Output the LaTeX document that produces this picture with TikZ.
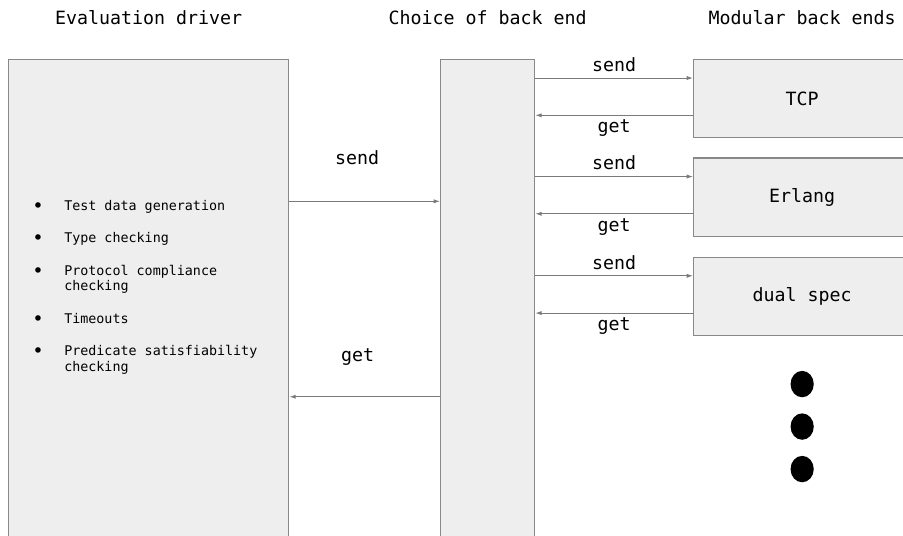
\documentclass[tikz,border=0pt]{standalone}
\usepackage{fontspec}
\setmonofont{DejaVu Sans Mono}
\usepackage{tikz}
\usetikzlibrary{positioning,arrows.meta,calc}
\usepackage{xcolor}
\definecolor{boxfill}{HTML}{EEEEEE}
\definecolor{boxline}{HTML}{888888}
\definecolor{wire}{HTML}{7A7A7A}
\newcommand{\bigdot}{\raisebox{-1.3pt}{\fontsize{13.5}{11.1}\selectfont\textbullet}}

\begin{document}
\begin{tikzpicture}[
    x=0.025cm, y=-0.025cm,
    box/.style={rectangle, draw=boxline, fill=boxfill, line width=0.9pt, inner sep=0pt,
        anchor=north west, font=\ttfamily\fontsize{13}{15}\selectfont},
    title/.style={font=\ttfamily\fontsize{13}{15}\selectfont, inner sep=0pt},
    lbl/.style={font=\ttfamily\fontsize{13}{15}\selectfont, inner sep=0pt},
    listtext/.style={font=\ttfamily\fontsize{9.5}{11.1}\selectfont, inner sep=0pt},
    arrow/.style={-{Latex[length=4.5pt,width=3pt]}, draw=wire, line width=0.7pt}
]
    \useasboundingbox (0,0) rectangle (903,535);

    % the three columns
    \node[box, minimum width=7cm, minimum height=12.15cm] (driver) at (8,59) {};
    \node[box, minimum width=2.35cm, minimum height=12.15cm] (choice) at (440,59) {};
    \node[box, minimum width=5.425cm, minimum height=1.95cm] (tcp) at (693,59) {TCP};
    \node[box, minimum width=5.425cm, minimum height=1.95cm, below=0.48cm of tcp] (erlang) {Erlang};
    \node[box, minimum width=5.425cm, minimum height=1.95cm, below=0.5cm of erlang] (dual) {dual spec};

    \node[title, above=0.85cm of driver] (drivertitle) {Evaluation driver};
    \node[title, above=0.85cm of choice] (choicetitle) {Choice of back end};
    \node[title, above=0.85cm of tcp] (backtitle) {Modular back ends};

    % what the driver does
    \node[listtext, anchor=north west] (tasks) at (32,199) {%
        \begin{tabular}{@{}p{0.8cm}@{}l@{}}
            \bigdot & Test data generation\\[12pt]
            \bigdot & Type checking\\[12pt]
            \bigdot & Protocol compliance\\
                    & checking\\[12pt]
            \bigdot & Timeouts\\[12pt]
            \bigdot & Predicate satisfiability\\
                    & checking
        \end{tabular}};

    % driver <-> choice
    \draw[arrow] ($(driver.north east)!0.292!(driver.south east)$) --
        node[lbl, pos=0.45, above=0.9cm] {send}
        ($(choice.north west)!0.292!(choice.south west)$);
    \draw[arrow] ($(choice.north west)!0.693!(choice.south west)$) --
        node[lbl, pos=0.546, above=0.775cm] {get}
        ($(driver.north east)!0.693!(driver.south east)$);

    % choice <-> back ends
    \foreach \b in {tcp,erlang,dual} {
        \coordinate (\b-in) at ($(\b.north west)!0.24!(\b.south west)$);
        \coordinate (\b-out) at ($(\b.north west)!0.71!(\b.south west)$);
        \draw[arrow] (choice.east |- \b-in) -- node[lbl, above=0.15cm] {send} (\b-in);
        \draw[arrow] (\b-out) -- node[lbl, below=0.1cm] {get} (choice.east |- \b-out);
    }

    % more back ends
    \foreach \k in {0,1,2}
        \fill ($(dual.south)+(0,48+42.5*\k)$) ellipse [x radius=0.29cm, y radius=0.33cm];
\end{tikzpicture}
\end{document}
